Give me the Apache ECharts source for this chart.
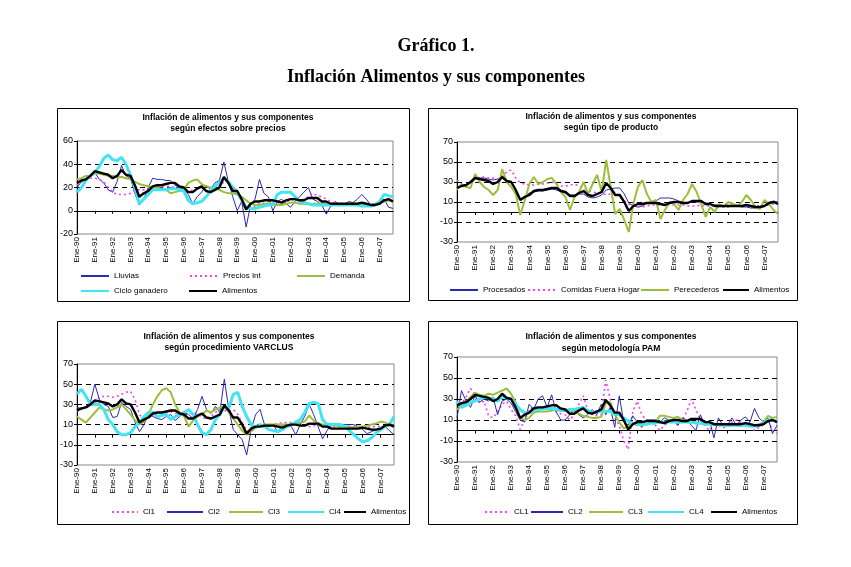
<!DOCTYPE html>
<html><head><meta charset="utf-8">
<script src="https://cdn.jsdelivr.net/npm/echarts@6/dist/echarts.min.js"></script>
<style>html,body{margin:0;padding:0;background:#fff}#c{width:851px;height:567px}</style>
</head><body><div id="c"></div>
<script>
const years = ["90","91","92","93","94","95","96","97","98","99","00","01","02","03","04","05","06","07"];
const quarterMonths = ["Ene","Abr","Jul","Oct"];
const categories = [];
years.forEach(y => quarterMonths.forEach(m => categories.push(m + "-" + y)));

const yAxisP1 = [-20, 60, 20];
const yAxisP234 = [-30, 70, 20];

const alimentos = [24,26,27,30, 34,33,32,31, 28,30,35,31, 30,22,12,15, 17,21,22,22, 23,24,24,21, 20,16,16,19, 21,17,16,18, 20,29,24,17, 17,10,1,6, 8,8,9,9, 9,8,7,9, 10,10,9,9, 11,11,11,8, 8,6,6,6, 6,6,6,6, 7,6,5,5, 6,9,10,8];

const lluvias = [20,25,28,30, 33,27,24,18, 16,25,39,30, 28,15,5,10, 20,28,27,27, 26,26,22,20, 18,14,6,12, 16,22,18,24, 26,42,25,12, 0,8,-14,5, 10,27,15,12, 0,8,10,6, 3,8,12,16, 20,10,8,5, -3,4,8,5, 5,8,7,10, 14,10,5,6, 7,10,3,2];
const preciosInt = [22,25,27,28, 28,27,25,20, 16,14,14,14, 15,18,18,18, 19,20,21,21, 21,21,20,19, 17,16,18,19, 20,18,17,19, 21,25,25,20, 16,10,4,3, 4,6,8,8, 8,7,7,8, 9,10,9,10, 12,15,13,12, 10,8,6,6, 5,5,5,6, 6,6,5,6, 7,9,9,8];
const demanda = [27,28,30,30, 32,32,31,30, 30,29,29,28, 27,25,23,22, 21,20,20,19, 18,15,16,17, 18,24,26,27, 23,21,20,19, 18,16,15,15, 14,12,9,6, 5,5,6,6, 6,5,5,6, 7,7,6,6, 6,6,6,6, 6,6,5,5, 5,6,6,6, 5,5,5,6, 7,8,9,8];
const cicloGanadero = [16,20,26,30, 33,38,45,48, 44,43,46,40, 31,20,6,10, 14,18,18,18, 18,19,19,18, 17,9,6,7, 8,12,17,21, 24,28,25,20, 16,9,3,2, 2,3,4,5, 5,14,16,16, 16,12,8,7, 6,5,5,5, 5,5,5,5, 5,5,5,5, 4,4,4,5, 8,14,13,12];

const procesados = [25,26,26,29, 35,34,34,33, 32,33,34,31, 29,22,13,16, 19,20,21,21, 22,23,22,20, 19,17,17,18, 18,15,14,15, 17,22,23,24, 24,18,9,6, 5,6,9,10, 11,14,14,14, 13,11,9,9, 10,10,10,9, 8,7,7,6, 6,6,6,5, 5,4,4,5, 6,9,11,10];
const comidasFueraHogar = [32,28,26,30, 33,35,35,34, 34,33,36,40, 42,34,29,28, 27,27,28,28, 29,30,28,26, 26,27,28,26, 24,22,20,19, 19,17,18,20, 15,11,8,6, 5,5,6,7, 7,7,7,7, 7,7,7,6, 6,6,7,6, 6,6,5,5, 5,6,6,6, 6,6,6,6, 6,7,8,8];
const perecederos = [22,28,25,24, 38,30,25,22, 17,22,43,30, 25,18,-3,12, 28,35,28,30, 33,34,28,20, 15,2,15,20, 30,18,28,37, 20,52,25,-2, 3,-8,-20,8, 25,32,18,10, 12,-7,2,10, 8,2,12,18, 28,20,8,-5, 5,0,8,5, 10,8,6,10, 17,12,5,3, 12,8,2,-2];

const cl1 = [23,25,27,29, 31,37,38,38, 37,38,40,42, 43,35,20,15, 19,20,21,22, 22,23,21,20, 20,21,22,20, 18,15,18,22, 25,24,23,25, 20,12,4,3, 7,9,10,10, 10,11,12,12, 12,13,11,9, 8,9,9,9, 8,8,8,8, 8,8,8,8, 7,7,8,8, 8,9,9,9];
const cl2 = [27,26,28,32, 50,35,30,28, 17,18,32,28, 25,12,3,10, 20,18,16,15, 18,20,14,18, 22,20,16,25, 38,25,21,28, 22,55,25,5, 0,-5,-20,5, 20,25,10,8, 10,2,10,10, 8,0,10,18, 30,20,8,-4, 4,10,10,10, 10,10,10,8, 5,1,3,5, 6,8,4,0];
const cl3 = [18,15,12,17, 22,27,25,24, 25,27,30,25, 20,14,10,13, 20,30,38,44, 46,42,30,22, 18,8,14,18, 20,24,22,25, 27,28,22,16, 10,4,0,4, 7,9,10,10, 10,10,10,10, 10,11,12,13, 19,14,11,10, 9,9,9,8, 8,8,7,8, 8,9,10,11, 13,12,10,9];
const cl4 = [40,45,38,30, 30,30,25,15, 10,3,0,0, 2,8,12,18, 22,22,18,19, 20,15,18,20, 22,25,20,10, 2,0,5,15, 20,28,26,40, 42,28,18,10, 7,10,8,5, 4,3,5,8, 10,12,15,22, 31,32,31,15, 10,10,10,10, 8,4,0,-4, -7,-6,-3,2, 5,8,10,18];

const pamCL1 = [20,25,32,40, 33,26,28,14, 12,18,25,28, 20,14,1,10, 20,22,21,20, 20,19,18,16, 15,10,15,25, 33,20,15,14, 15,48,30,12, 5,-10,-18,18, 28,15,10,8, 5,0,5,8, 10,5,10,18, 30,20,10,5, 0,5,5,3, 3,8,10,7, 5,8,0,3, 5,10,0,-3];
const pamCL2 = [12,38,28,22, 33,27,30,28, 32,15,28,30, 26,18,10,8, 25,20,30,33, 22,34,18,10, 10,15,20,15, 12,15,20,15, 25,15,22,3, 33,8,5,14, 8,3,10,10, 10,8,12,10, 10,5,12,10, 5,0,15,5, 10,-7,12,5, 5,12,5,10, 13,8,21,12, 8,12,-3,5];
const pamCL3 = [20,23,27,32, 36,34,33,35, 34,36,38,40, 35,27,12,10, 12,17,18,18, 18,19,20,20, 20,19,18,16, 14,13,12,12, 13,26,27,15, 8,2,4,7, 5,6,6,7, 8,14,14,13, 12,13,10,9, 8,8,7,7, 7,6,6,6, 6,6,5,5, 5,5,5,6, 8,14,12,13];
const pamCL4 = [28,22,24,27, 28,30,32,31, 30,28,32,31, 30,25,20,17, 17,19,20,21, 21,21,20,19, 19,20,20,21, 22,19,17,18, 18,18,18,16, 15,12,9,7, 6,6,6,7, 7,8,8,8, 8,8,8,8, 8,7,7,6, 6,6,6,5, 5,5,5,5, 5,4,4,5, 7,10,10,9];

const FONT = "Liberation Sans";
const BLUE = "#2a2ab8", MAG = "#ee44ee", GREEN = "#9cbf3a", CYAN = "#40e4f2", BLACK = "#000";
const styles = {
  blue: {color: BLUE, width: 1},
  mag: {color: MAG, width: 1.6, type: [2, 3]},
  green: {color: GREEN, width: 2},
  cyan: {color: CYAN, width: 3},
  black: {color: BLACK, width: 2.4}
};

const grids = [
  {left: 77, top: 141, width: 316, height: 93},
  {left: 457, top: 142, width: 321, height: 100},
  {left: 77, top: 364, width: 317, height: 101},
  {left: 457, top: 357, width: 320, height: 105}
];

const xAxes = [], yAxes = [];
grids.forEach((g, i) => {
  g.show = true; g.borderColor = "#888"; g.borderWidth = 1;
  xAxes.push({gridIndex: i, type: "category", data: categories, boundaryGap: false, position: "bottom",
    axisLine: {onZero: true, lineStyle: {color: "#000", width: 1}},
    axisTick: {show: true, interval: 3, length: 3, lineStyle: {color: "#000"}},
    axisLabel: {show: false}, splitLine: {show: false}});
  xAxes.push({gridIndex: i, type: "category", data: categories, boundaryGap: false, position: "bottom",
    axisLine: {show: false, onZero: false}, axisTick: {show: false}, splitLine: {show: false},
    axisLabel: {interval: 3, rotate: 90, fontSize: 8, margin: 3, color: "#000", fontFamily: FONT}});
  const r = i === 0 ? yAxisP1 : yAxisP234;
  yAxes.push({gridIndex: i, type: "value", min: r[0], max: r[1], interval: r[2],
    axisLine: {show: true, lineStyle: {color: "#000"}},
    axisTick: {show: true, length: 3, lineStyle: {color: "#000"}},
    axisLabel: {fontSize: 9, color: "#000", margin: 4, fontFamily: FONT},
    splitLine: {show: true, showMinLine: false, showMaxLine: false, lineStyle: {color: "#000", type: [5, 4], width: 1}}});
});

function mk(name, data, g, st) {
  return {name: name, type: "line", xAxisIndex: 2 * g, yAxisIndex: g, data: data, symbol: "none",
    color: st.color, lineStyle: st, emphasis: {disabled: true}, animation: false};
}

const series = [
  mk("Lluvias", lluvias, 0, styles.blue),
  mk("Precios Int", preciosInt, 0, styles.mag),
  mk("Demanda", demanda, 0, styles.green),
  mk("Ciclo ganadero", cicloGanadero, 0, styles.cyan),
  mk("Alimentos", alimentos, 0, styles.black),
  mk("Procesados", procesados, 1, styles.blue),
  mk("Comidas Fuera Hogar", comidasFueraHogar, 1, styles.mag),
  mk("Perecederos", perecederos, 1, styles.green),
  mk("Alimentos", alimentos, 1, styles.black),
  mk("Cl1", cl1, 2, styles.mag),
  mk("Cl2", cl2, 2, styles.blue),
  mk("Cl3", cl3, 2, styles.green),
  mk("Cl4", cl4, 2, styles.cyan),
  mk("Alimentos", alimentos, 2, styles.black),
  mk("CL1", pamCL1, 3, styles.mag),
  mk("CL2", pamCL2, 3, styles.blue),
  mk("CL3", pamCL3, 3, styles.green),
  mk("CL4", pamCL4, 3, styles.cyan),
  mk("Alimentos", alimentos, 3, styles.black)
];

function lg(name, textX, cy, w) {
  w = w || 28;
  return {data: [name], left: textX - w - 5, top: cy - 5, padding: 0, itemWidth: w, itemHeight: 10,
    selectedMode: false, itemStyle: {opacity: 0, borderWidth: 0},
    textStyle: {fontSize: 8, color: "#000", fontFamily: FONT}};
}
const legends = [
  lg("Lluvias", 113, 277), lg("Precios Int", 222, 277), lg("Demanda", 329, 277),
  lg("Ciclo ganadero", 113, 292), lg("Alimentos", 221, 292),
  lg("Procesados", 482, 291), lg("Comidas Fuera Hogar", 560, 291), lg("Perecederos", 673, 291), lg("Alimentos", 753, 291, 26),
  lg("Cl1", 142, 513, 26), lg("Cl2", 207, 513, 36), lg("Cl3", 267, 513, 34), lg("Cl4", 328, 513, 36), lg("Alimentos", 370, 513, 22),
  lg("CL1", 513, 513, 24), lg("CL2", 567, 513, 32), lg("CL3", 627, 513, 34), lg("CL4", 688, 513, 36), lg("Alimentos", 741, 513, 26)
];

function box(x, y, w, h) {
  return {type: "rect", shape: {x: x, y: y, width: w, height: h}, style: {fill: "none", stroke: "#000", lineWidth: 1}, silent: true};
}
function txt(t, x, y, font) {
  return {type: "text", x: x, y: y, style: {text: t, textAlign: "center", textVerticalAlign: "middle", font: font, fill: "#000"}, silent: true};
}
const tf = "bold 8.5px 'Liberation Sans'";
const graphic = [
  box(57.5, 108.5, 352, 193), box(428.5, 108.5, 369, 192), box(57.5, 321.5, 352, 203), box(428.5, 321.5, 369, 203),
  txt("Gráfico 1.", 436, 46, "bold 18px 'Liberation Serif'"),
  txt("Inflación Alimentos y sus componentes", 436, 77, "bold 18px 'Liberation Serif'"),
  txt("Inflación de alimentos y sus componentes", 228, 118, tf),
  txt("según efectos sobre precios", 228, 129, tf),
  txt("Inflación de alimentos y sus componentes", 611, 117, tf),
  txt("según tipo de producto", 611, 128, tf),
  txt("Inflación de alimentos y sus componentes", 229, 337, tf),
  txt("según procedimiento VARCLUS", 229, 348, tf),
  txt("Inflación de alimentos y sus componentes", 611, 337, tf),
  txt("según metodología PAM", 611, 349, tf)
];

const chart = echarts.init(document.getElementById("c"), null, {renderer: "canvas"});
chart.setOption({
  backgroundColor: "#fff", animation: false,
  textStyle: {fontFamily: FONT},
  grid: grids, xAxis: xAxes, yAxis: yAxes, series: series, legend: legends, graphic: graphic
});
</script></body></html>
